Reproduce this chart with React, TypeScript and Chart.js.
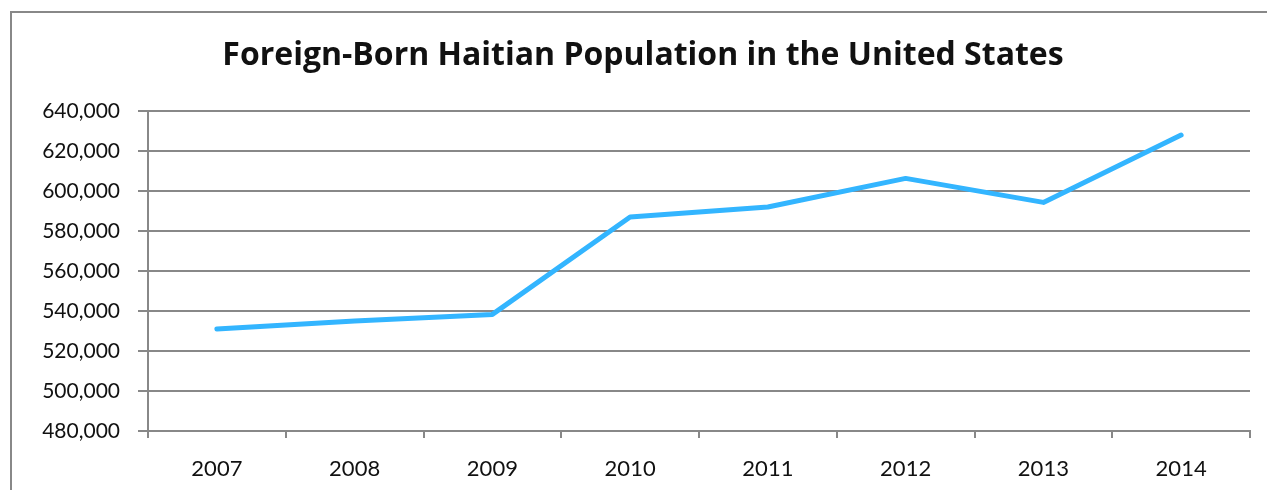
import React, { useEffect, useRef } from "react";
import { Chart, registerables } from "chart.js";

Chart.register(...registerables);

const TITLE = "Foreign-Born Haitian Population in the United States";
const YEARS = ["2007", "2008", "2009", "2010", "2011", "2012", "2013", "2014"];
const POPULATION = [531000, 535000, 538300, 587000, 592000, 606300, 594300, 628000];
const Y_MIN = 480000;
const Y_MAX = 640000;
const Y_STEP = 20000;

const GRID = "#888888";
const LINE = "#33B5FF";
const FONT = "Lato, 'Open Sans', sans-serif";
const TITLE_FONT = "'Open Sans', Lato, sans-serif";

export default function App() {
  const ref = useRef<HTMLCanvasElement | null>(null);

  useEffect(() => {
    if (!ref.current) return;
    const chart = new Chart(ref.current, {
      type: "line",
      data: {
        labels: YEARS,
        datasets: [
          {
            data: POPULATION,
            borderColor: LINE,
            borderWidth: 5,
            borderCapStyle: "round",
            borderJoinStyle: "round",
            pointRadius: 0,
            tension: 0,
            fill: false,
          },
        ],
      },
      options: {
        responsive: false,
        animation: false,
        maintainAspectRatio: false,
        layout: { padding: { left: 36, right: 17, top: 0, bottom: 0 } },
        plugins: {
          legend: { display: false },
          tooltip: { enabled: false },
          title: {
            display: true,
            text: TITLE,
            color: "#111",
            font: { family: TITLE_FONT, size: 32, weight: "bold", lineHeight: 1.2 },
            padding: { top: 37, bottom: 35.6 },
          },
        },
        scales: {
          x: {
            type: "category",
            offset: true,
            grid: {
              display: true,
              drawOnChartArea: false,
              drawTicks: true,
              tickLength: 7,
              color: GRID,
              lineWidth: 2,
              offset: true,
            },
            border: { display: true, color: GRID, width: 2 },
            ticks: {
              color: "#111",
              font: { family: FONT, size: 22 },
              padding: 18,
              maxRotation: 0,
            },
            afterFit: (s: any) => {
              s.height = 59;
            },
          },
          y: {
            min: Y_MIN,
            max: Y_MAX,
            grid: {
              color: GRID,
              lineWidth: 2,
              drawTicks: true,
              tickLength: 10,
            },
            border: { display: true, color: GRID, width: 2 },
            ticks: {
              stepSize: Y_STEP,
              color: "#111",
              font: { family: FONT, size: 21 },
              padding: 18,
              callback: (v: any) => Number(v).toLocaleString("en-US"),
            },
            afterFit: (s: any) => {
              s.width = 112;
            },
          },
        },
      },
    });
    return () => chart.destroy();
  }, []);

  return (
    <div
      style={{
        position: "fixed",
        left: 0,
        top: 0,
        width: 1267,
        height: 490,
        overflow: "hidden",
        background: "#fff",
      }}
    >
      <div
        style={{
          position: "absolute",
          left: 10,
          top: 11,
          width: 1400,
          height: 600,
          borderTop: `2px solid ${GRID}`,
          borderLeft: `2px solid ${GRID}`,
          boxSizing: "border-box",
        }}
      />
      <canvas
        ref={ref}
        width={1267}
        height={490}
        style={{ position: "absolute", left: 0, top: 0, width: 1267, height: 490 }}
      />
    </div>
  );
}
